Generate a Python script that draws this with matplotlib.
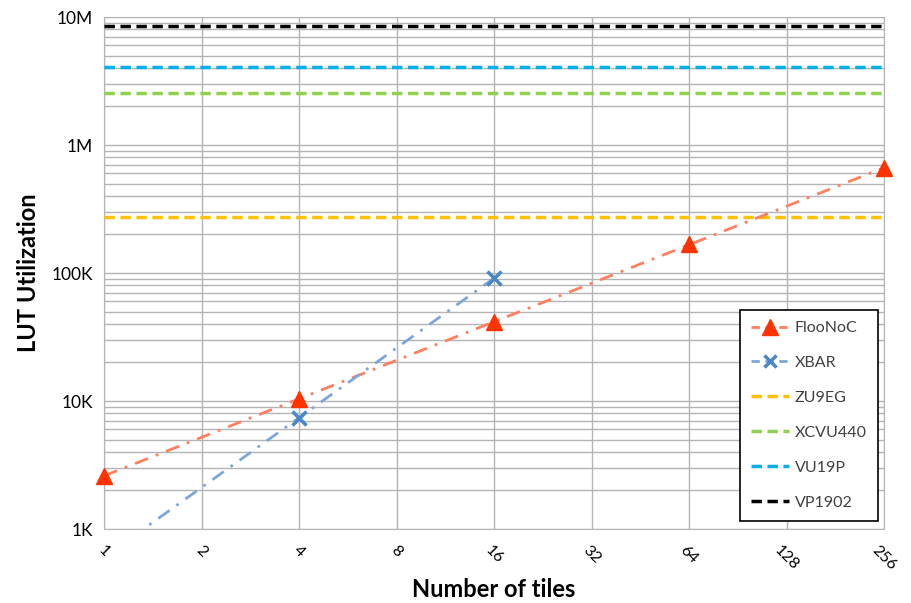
import matplotlib.pyplot as plt
import numpy as np
from matplotlib.lines import Line2D

plt.rcParams['font.family'] = ['Lato', 'DejaVu Sans']

# data
floonoc_tiles = [1, 4, 16, 64, 256]
floonoc_luts = [2600, 10400, 41500, 168000, 660000]
xbar_tiles = [4, 16]
xbar_luts = [7400, 91000]

fpga_names = ['ZU9EG', 'XCVU440', 'VU19P', 'VP1902']
fpga_luts = [274080, 2532960, 4085760, 8468000]
fpga_colors = ['#FFC000', '#92D050', '#00B0F0', '#000000']

xticks = [1, 2, 4, 8, 16, 32, 64, 128, 256]
yticks = [1e3, 1e4, 1e5, 1e6, 1e7]
ylabels = ['1K', '10K', '100K', '1M', '10M']


def power_trend(x, y, x0, x1):
    k, b = np.polyfit(np.log(x), np.log(y), 1)
    xs = np.geomspace(x0, x1, 200)
    return xs, np.exp(b) * xs ** k


fig = plt.figure(figsize=(9.11, 6.03), dpi=100)
ax = fig.add_axes([0.1142, 0.1227, 0.8562, 0.8491])

ax.set_xscale('log', base=2)
ax.set_yscale('log')
ax.set_xlim(1, 256)
ax.set_ylim(1e3, 1e7)

ax.grid(True, which='major', color='#B4B4B4', lw=1)
ax.grid(True, which='minor', axis='y', color='#B4B4B4', lw=1)
ax.set_axisbelow(True)

for name, val, col in zip(fpga_names, fpga_luts, fpga_colors):
    ax.axhline(val, color=col, lw=2.5, ls=(0, (3, 1.6)), zorder=3)

fx, fy = power_trend(floonoc_tiles, floonoc_luts, 1, 256)
ax.plot(fx, fy, color='#FF7F5F', lw=2, ls=(0, (5, 3, 1, 3)), zorder=4)
bx, by = power_trend(xbar_tiles, xbar_luts, 1, 16)
ax.plot(bx, by, color='#7DA7D8', lw=2, ls=(0, (5, 3, 1, 3)), zorder=4)

ax.plot(floonoc_tiles, floonoc_luts, ls='none', marker='^', ms=12,
        color='#FF3300', zorder=5, clip_on=False)
ax.plot(xbar_tiles, xbar_luts, ls='none', marker='x', ms=10, mew=2.5,
        color='#4A86C8', zorder=5, clip_on=False)

ax.set_xticks(xticks)
ax.set_xticklabels([str(t) for t in xticks], rotation=-45, ha='center',
                   fontsize=11.5)
ax.set_yticks(yticks)
ax.set_yticklabels(ylabels, fontsize=12.5)
ax.yaxis.set_minor_formatter(plt.NullFormatter())
ax.tick_params(which='both', length=0, pad=8)
ax.tick_params(axis='x', pad=10)

for s in ax.spines.values():
    s.set_color('#B4B4B4')

ax.set_xlabel('Number of tiles', fontsize=17, fontweight='bold', labelpad=4)
ax.set_ylabel('LUT Utilization', fontsize=17, fontweight='bold', labelpad=8)

handles = [
    Line2D([], [], color='#FF7F5F', lw=2, ls=(0, (3, 2)), marker='^', ms=11,
           mfc='#FF3300', mec='#FF3300'),
    Line2D([], [], color='#7DA7D8', lw=2, ls=(0, (3, 2)), marker='x', ms=9,
           mew=2.5, mec='#4A86C8'),
]
for col in fpga_colors:
    handles.append(Line2D([], [], color=col, lw=2.5, ls=(0, (3, 1.6))))
leg = ax.legend(handles, ['FlooNoC', 'XBAR'] + fpga_names,
                loc='lower right', bbox_to_anchor=(0.992, 0.0156),
                borderaxespad=0, fontsize=11.5, frameon=True, fancybox=False,
                framealpha=1, edgecolor='black', labelspacing=1.3,
                handlelength=2.4, borderpad=0.7, handletextpad=0.35)
leg.get_frame().set_linewidth(1.2)
for t in leg.get_texts():
    t.set_color('#404040')

fig.savefig('out.png', dpi=100)
